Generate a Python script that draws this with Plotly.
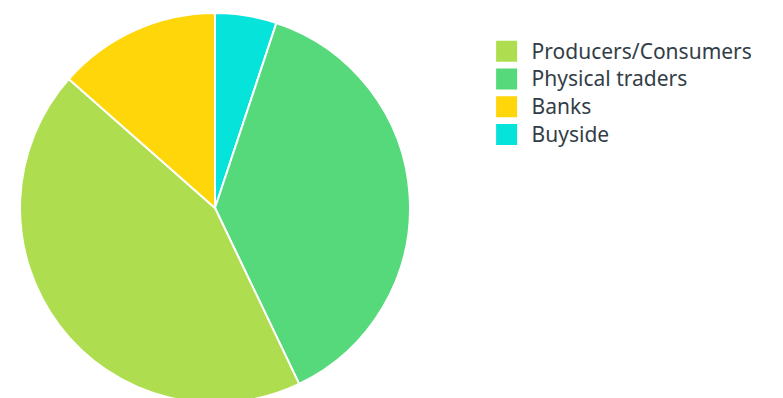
import plotly.graph_objects as go

# Data
slice_labels = ["Buyside", "Physical traders", "Producers/Consumers", "Banks"]
slice_values = [5.1, 37.8, 43.6, 13.5]
legend_labels = ["Producers/Consumers", "Physical traders", "Banks", "Buyside"]
colors = {
    "Producers/Consumers": "#aede4f",
    "Physical traders": "#55d97b",
    "Banks": "#ffd60a",
    "Buyside": "#05e3da",
}

W, H = 783, 410
ml, mr, mt, mb = 20, 0, 13, 7
pw = W - ml - mr
ph = H - mt - mb

fig = go.Figure()
fig.add_trace(go.Pie(
    labels=slice_labels,
    values=slice_values,
    sort=False,
    direction="clockwise",
    rotation=0,
    textinfo="none",
    hoverinfo="label+percent",
    marker=dict(colors=[colors[l] for l in slice_labels],
                line=dict(color="white", width=2)),
    domain=dict(x=[0, ph / pw], y=[0, 1]),
    showlegend=False,
))

for lab in legend_labels:
    fig.add_trace(go.Scatter(
        x=[None], y=[None], mode="markers",
        name='<span style="font-size:21px">' + lab + '</span>',
        marker=dict(symbol="square", size=16, color=colors[lab],
                    line=dict(color=colors[lab], width=5)),
        hoverinfo="skip",
    ))

fig.update_layout(
    width=W, height=H,
    margin=dict(l=ml, r=mr, t=mt, b=mb),
    paper_bgcolor="white", plot_bgcolor="white",
    xaxis=dict(visible=False), yaxis=dict(visible=False),
    font=dict(family="Noto Sans, Open Sans, sans-serif", color="#333d47"),
    legend=dict(x=0.605, y=0.95, xanchor="left", yanchor="top",
                font=dict(size=19), itemsizing="trace", itemwidth=40,
                tracegroupgap=0, bgcolor="rgba(0,0,0,0)"),
)

fig.write_html("out.html")
